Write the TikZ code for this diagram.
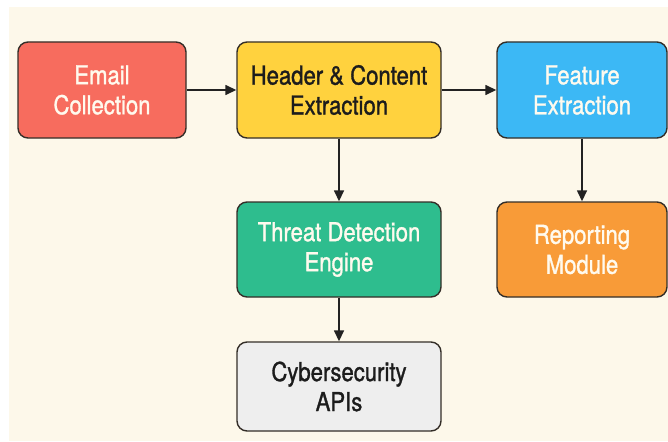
\documentclass[tikz,border=0pt]{standalone}
\usepackage{fontspec}
\newfontfamily\kastenschrift[FakeStretch=0.85,FakeBold=1.2]{TeX Gyre Heros}
\usepackage{tikz}
\usetikzlibrary{arrows.meta,positioning}

\definecolor{creme}{RGB}{253,248,234}
\definecolor{rahmen}{RGB}{52,46,40}
\definecolor{pfeilfarbe}{RGB}{34,34,34}
\definecolor{hell}{RGB}{255,250,238}
\definecolor{dunkel}{RGB}{28,28,28}
\definecolor{rot}{RGB}{247,108,94}
\definecolor{gelb}{RGB}{255,210,62}
\definecolor{blau}{RGB}{60,184,245}
\definecolor{gruen}{RGB}{46,189,142}
\definecolor{orange}{RGB}{248,155,56}
\definecolor{grau}{RGB}{238,238,238}

\begin{document}
\begin{tikzpicture}[x=1pt,y=-1pt,
  kasten/.style={draw=rahmen,line width=1.4pt,rounded corners=10pt,align=center,
    inner sep=0pt,font=\kastenschrift\fontsize{26}{30}\selectfont},
  pfeil/.style={draw=pfeilfarbe,line width=1.5pt,-{Triangle[length=11pt,width=10pt]}}]
%Hintergrund, oben und links ein weisser Rand
\useasboundingbox (0,0) rectangle (668,441);
\fill[white] (0,0) rectangle (668,441);
\fill[creme] (9,7) rectangle (668,441);
%obere Reihe
\node[kasten,fill=rot,text=hell,minimum width=168pt,minimum height=96pt] (mail) at (102,90) {Email\\Collection};
\node[kasten,fill=gelb,text=dunkel,minimum width=204pt,minimum height=96pt] (kopf) at (339,90) {Header \& Content\\Extraction};
\node[kasten,fill=blau,text=hell,minimum width=170pt,minimum height=96pt] (merkmal) at (582,90) {Feature\\Extraction};
%mittlere Reihe
\node[kasten,fill=gruen,text=hell,minimum width=204pt,minimum height=95pt] (bedrohung) at (339,249.5) {Threat Detection\\Engine};
\node[kasten,fill=orange,text=hell,minimum width=170pt,minimum height=95pt] (bericht) at (582,249.5) {Reporting\\Module};
%untere Reihe
\node[kasten,fill=grau,text=dunkel,minimum width=204pt,minimum height=89pt] (api) at (339,386.5) {Cybersecurity\\APIs};
%Pfeile
\draw[pfeil] (mail) -- (kopf);
\draw[pfeil] (kopf) -- (merkmal);
\draw[pfeil] (kopf) -- (bedrohung);
\draw[pfeil] (bedrohung) -- (api);
\draw[pfeil] (merkmal) -- (bericht);
\end{tikzpicture}
\end{document}
